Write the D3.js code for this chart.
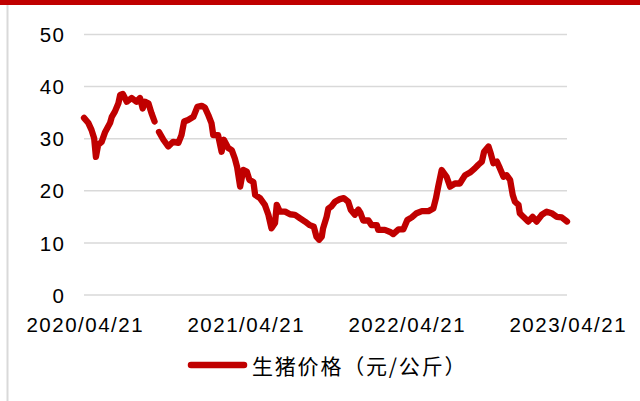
<!DOCTYPE html>
<html><head><meta charset="utf-8">
<script src="https://cdn.jsdelivr.net/npm/d3@7/dist/d3.min.js"></script>
<style>html,body{margin:0;padding:0;background:#fff;}svg{display:block;}</style>
</head><body>
<script>
const dates = ["2020-04-21","2020-05-01","2020-05-08","2020-05-14","2020-05-18","2020-05-23","2020-05-31","2020-06-08","2020-06-19","2020-06-23","2020-06-30","2020-07-08","2020-07-12","2020-07-18","2020-07-27","2020-08-07","2020-08-18","2020-08-26","2020-09-01","2020-09-06","2020-09-14","2020-09-21","2020-09-28","2020-10-01","2020-10-08","2020-10-18","2020-10-29","2020-11-09","2020-11-21","2020-11-28","2020-12-04","2020-12-13","2020-12-25","2021-01-03","2021-01-13","2021-01-20","2021-01-28","2021-02-04","2021-02-08","2021-02-19","2021-02-27","2021-03-04","2021-03-14","2021-03-22","2021-03-29","2021-04-03","2021-04-10","2021-04-17","2021-04-25","2021-05-01","2021-05-10","2021-05-14","2021-05-25","2021-06-05","2021-06-13","2021-06-20","2021-06-28","2021-07-02","2021-07-09","2021-07-21","2021-08-01","2021-08-12","2021-08-24","2021-09-04","2021-09-15","2021-09-24","2021-09-30","2021-10-06","2021-10-12","2021-10-15","2021-10-23","2021-10-27","2021-11-03","2021-11-11","2021-11-22","2021-12-01","2021-12-11","2021-12-17","2021-12-26","2022-01-03","2022-01-08","2022-01-14","2022-01-26","2022-02-02","2022-02-14","2022-02-17","2022-03-04","2022-03-16","2022-03-23","2022-04-04","2022-04-15","2022-04-24","2022-05-04","2022-05-15","2022-05-27","2022-06-11","2022-06-22","2022-06-28","2022-07-03","2022-07-11","2022-07-22","2022-07-30","2022-08-10","2022-08-21","2022-09-02","2022-09-13","2022-09-24","2022-10-02","2022-10-10","2022-10-15","2022-10-25","2022-10-30","2022-11-05","2022-11-13","2022-11-20","2022-11-28","2022-12-05","2022-12-13","2022-12-19","2022-12-24","2023-01-01","2023-01-04","2023-01-12","2023-01-23","2023-02-02","2023-02-11","2023-02-23","2023-03-06","2023-03-17","2023-03-29","2023-04-09","2023-04-21"];
const prices = [34.0,33.0,31.7,30.1,26.5,28.8,29.4,31.3,33.0,34.2,35.2,36.8,38.4,38.6,37.1,37.8,37.1,37.8,35.8,37.1,36.8,34.9,33.3,null,31.3,29.8,28.5,29.4,29.2,30.7,33.3,33.6,34.2,36.1,36.3,36.0,34.5,33.0,30.7,30.7,27.5,29.8,28.2,27.8,26.2,24.6,20.8,24.0,23.7,22.1,21.7,19.2,18.6,17.3,15.4,12.8,13.8,17.3,16.0,16.0,15.5,15.4,14.7,14.1,13.4,13.1,11.2,10.6,11.2,12.8,15.0,16.6,17.0,17.9,18.4,18.6,17.9,16.3,15.4,16.4,15.7,14.3,14.3,13.4,13.4,12.5,12.5,12.1,11.7,12.6,12.6,14.4,14.9,15.7,16.1,16.1,16.6,18.6,20.8,24.0,22.7,20.8,21.4,21.4,23.0,23.5,24.3,25.0,25.6,27.5,28.5,27.2,25.3,25.6,24.3,22.7,23.0,22.1,19.2,17.9,17.3,15.7,15.0,14.1,15.0,14.1,15.4,16.0,15.7,15.0,14.9,14.1];
const xTickLabels = ["2020/04/21","2021/04/21","2022/04/21","2023/04/21"];
const yTicks = [0,10,20,30,40,50];
const seriesName = "生猪价格（元/公斤）";

const W = 640, H = 401;
const red = "#C00000", grid = "#d9d9d9";
const parse = d3.timeParse("%Y-%m-%d");
const parseTick = d3.timeParse("%Y/%m/%d");
const data = dates.map((d,i)=>({date: parse(d), value: prices[i]}));

const svg = d3.select("body").append("svg").attr("width", W).attr("height", H);

svg.append("rect").attr("x",0).attr("y",0).attr("width",W).attr("height",5).attr("fill",red);
svg.append("line").attr("x1",7.5).attr("x2",7.5).attr("y1",5).attr("y2",H).attr("stroke",grid).attr("stroke-width",2);

const x = d3.scaleTime().domain([parseTick(xTickLabels[0]), parseTick(xTickLabels[xTickLabels.length-1])]).range([84, 567]);
const y = d3.scaleLinear().domain([0, 50]).range([295, 34.5]);

svg.append("g").selectAll("line").data(yTicks).join("line")
  .attr("x1", 84).attr("x2", 567)
  .attr("y1", d=>y(d)).attr("y2", d=>y(d))
  .attr("stroke", grid).attr("stroke-width", 1.5);

const yAxis = d3.axisLeft(y).tickValues(yTicks).tickSize(0).tickPadding(0);
const gy = svg.append("g").attr("transform","translate(65.5,0)").call(yAxis);
gy.select(".domain").remove();
gy.selectAll("text").attr("font-family","'Liberation Sans', Arial, sans-serif").attr("font-size","20.5px")
  .attr("fill","#000").style("letter-spacing","1.5px").attr("dy","0.35em");

const xAxis = d3.axisBottom(x).tickValues(xTickLabels.map(parseTick)).tickFormat(d3.timeFormat("%Y/%m/%d")).tickSize(0).tickPadding(0);
const gx = svg.append("g").attr("transform","translate(0,295)").call(xAxis);
gx.select(".domain").remove();
gx.selectAll("text").attr("font-family","'Liberation Sans', Arial, sans-serif").attr("font-size","20.5px")
  .attr("fill","#000").style("letter-spacing","1.5px").attr("dy",null).attr("y",37).attr("dx","0.75px");

const line = d3.line().defined(d=>d.value!==null).x(d=>x(d.date)).y(d=>y(d.value));
svg.append("path").datum(data).attr("d", line).attr("fill","none").attr("stroke",red)
  .attr("stroke-width",6.3).attr("stroke-linejoin","round").attr("stroke-linecap","round");

svg.append("line").attr("x1",191).attr("x2",244).attr("y1",365).attr("y2",365)
  .attr("stroke",red).attr("stroke-width",6.5).attr("stroke-linecap","round");
svg.append("text").attr("x",252).attr("y",365).attr("dominant-baseline","central")
  .attr("font-family","'Noto Sans CJK SC', sans-serif").attr("font-size","21px").attr("fill","#000")
  .style("letter-spacing","1.8px").text(seriesName);
</script>
</body></html>
